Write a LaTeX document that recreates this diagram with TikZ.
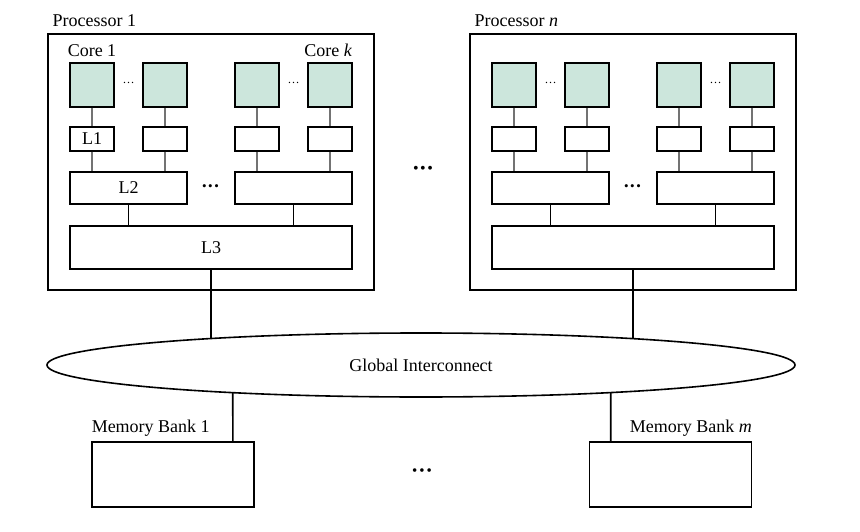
\documentclass[tikz,border=0pt]{standalone}
\usepackage{fontspec}
\setmainfont{Liberation Serif}
\usetikzlibrary{shapes.geometric, positioning, intersections}

\definecolor{corefill}{RGB}{204,230,220}
\definecolor{linkgray}{RGB}{115,115,115}

\tikzset{
  procbox/.style={draw, line width=1.8pt, minimum width=326, minimum height=256, inner sep=0},
  core/.style={draw, line width=1.1pt, fill=corefill, minimum width=44, minimum height=44, inner sep=0},
  lonebox/.style={draw, line width=1.1pt, minimum width=44, minimum height=24, inner sep=0},
  ltwobox/.style={draw, line width=1.1pt, minimum width=117, minimum height=32, inner sep=0},
  lthreebox/.style={draw, line width=1.1pt, minimum width=282, minimum height=43, inner sep=0},
  membox/.style={draw, line width=1.6pt, minimum width=162, minimum height=65, inner sep=0},
  link/.style={draw=linkgray, line width=1.1pt},
  bus/.style={line width=1.6pt},
  dotrow/.style={inner sep=0, font=\fontsize{13}{15}\selectfont},
  smalldots/.style={inner sep=0, font=\fontsize{12}{14}\selectfont}
}

\begin{document}
\begin{tikzpicture}[x=1pt, y=-1pt, font=\fontsize{18}{21}\selectfont, line width=1.1pt]
  \useasboundingbox (0,0) rectangle (860,532);

  % the two processors
  \foreach \p/\dx/\ptitle/\cfirst/\clast/\lone/\ltwo/\lthree in
      {1/0/{Processor 1}/{Core 1}/{Core \textit{k}}/L1/L2/L3,
       n/422/{Processor \textit{n}}/{}/{}/{}/{}/{}} {
    \begin{scope}[xshift=\dx]
      \node[procbox] (p\p) at (211,162) {};
      \node[anchor=base west, inner sep=0] (p\p title) at ([xshift=5pt, yshift=7pt]p\p.north west) {\ptitle};

      \foreach \i/\x/\t in {1/92/\lone, 2/165/{}, 3/257/{}, 4/330/{}} {
        \node[core] (p\p c\i) at (\x,85) {};
        \node[lonebox] (p\p a\i) at (\x,139) {\t};
        \draw[link] (p\p c\i) -- (p\p a\i);
      }
      \node[anchor=base, inner sep=0] (p\p cfirst) at ([yshift=6pt]p\p c1.north) {\cfirst};
      \node[anchor=base east, inner sep=0] (p\p clast) at ([yshift=6pt]p\p c4.north east) {\clast};
      \node[smalldots] (p\p sd1) at (128.5,83) {\ldots};
      \node[smalldots] (p\p sd2) at (293.5,83) {\ldots};

      \node[ltwobox] (p\p b1) at (128.5,188) {\ltwo};
      \node[ltwobox] (p\p b2) at (293.5,188) {};
      \node[dotrow] (p\p bd) at (210.5,188) {\textbullet\hspace{1.5pt}\textbullet\hspace{1.5pt}\textbullet};
      \draw[link] (p\p a1) -- (p\p a1 |- p\p b1.north);
      \draw[link] (p\p a2) -- (p\p a2 |- p\p b1.north);
      \draw[link] (p\p a3) -- (p\p a3 |- p\p b2.north);
      \draw[link] (p\p a4) -- (p\p a4 |- p\p b2.north);

      \node[lthreebox] (p\p s) at (211,247.5) {\lthree};
      \draw (p\p b1) -- (p\p b1 |- p\p s.north);
      \draw (p\p b2) -- (p\p b2 |- p\p s.north);
    \end{scope}
  }
  \node[dotrow, font=\fontsize{16}{18}\selectfont] (pdots) at (423,170) {\textbullet\hspace{1.5pt}\textbullet\hspace{1.5pt}\textbullet};

  % interconnect and memory
  \node[ellipse, draw, line width=1.6pt, minimum width=748, minimum height=64, inner sep=0, name path=gipath] (gi) at (421,365) {Global Interconnect};

  \node[membox] (mem1) at (173,474.5) {};
  \node[membox] (memm) at (670.5,474.5) {};
  \node[anchor=base west, inner sep=0] (mem1title) at ([yshift=9pt]mem1.north west) {Memory Bank 1};
  \node[anchor=base east, inner sep=0] (memmtitle) at ([yshift=9pt]memm.north east) {Memory Bank \textit{m}};
  \node[dotrow, font=\fontsize{15}{17}\selectfont] (mdots) at (422,472) {\textbullet\hspace{2pt}\textbullet\hspace{2pt}\textbullet};

  \coordinate (m1top) at ([xshift=-22pt]mem1.north east);
  \coordinate (mmtop) at ([xshift=22pt]memm.north west);
  \path[name path=p1up] (p1s.south) -- ++(0,120);
  \path[name path=pnup] (pns.south) -- ++(0,120);
  \path[name path=m1up] (m1top) -- ++(0,-120);
  \path[name path=mmup] (mmtop) -- ++(0,-120);
  \draw[bus, name intersections={of=p1up and gipath, sort by=p1up, by={p1hit}}] (p1s) -- (p1hit);
  \draw[bus, name intersections={of=pnup and gipath, sort by=pnup, by={pnhit}}] (pns) -- (pnhit);
  \draw[bus, name intersections={of=m1up and gipath, sort by=m1up, by={m1hit}}] (m1top) -- (m1hit);
  \draw[bus, name intersections={of=mmup and gipath, sort by=mmup, by={mmhit}}] (mmtop) -- (mmhit);
\end{tikzpicture}
\end{document}
